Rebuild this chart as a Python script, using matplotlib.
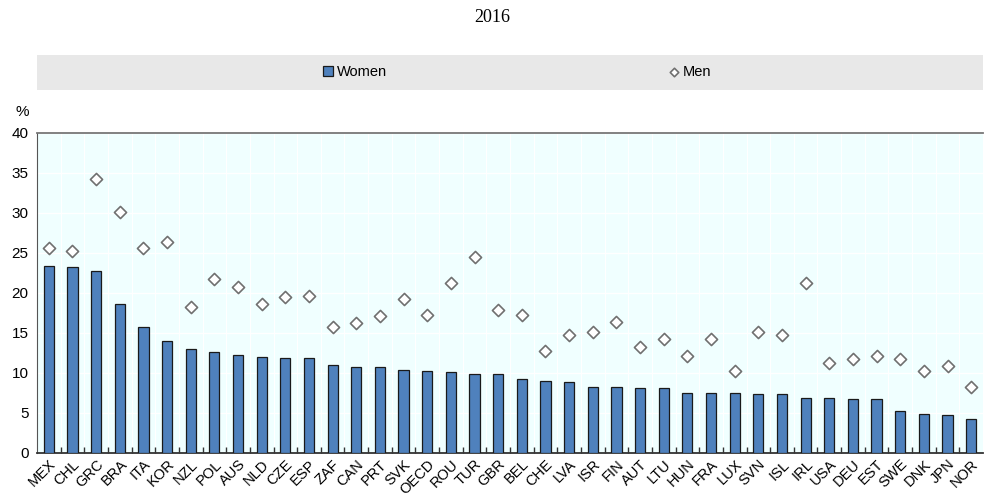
import numpy as np
import matplotlib
matplotlib.use("Agg")
import matplotlib.pyplot as plt
from matplotlib.patches import Rectangle

plt.rcParams["font.family"] = ["Liberation Sans", "DejaVu Sans"]

countries = ["MEX", "CHL", "GRC", "BRA", "ITA", "KOR", "NZL", "POL", "AUS", "NLD",
             "CZE", "ESP", "ZAF", "CAN", "PRT", "SVK", "OECD", "ROU", "TUR", "GBR",
             "BEL", "CHE", "LVA", "ISR", "FIN", "AUT", "LTU", "HUN", "FRA", "LUX",
             "SVN", "ISL", "IRL", "USA", "DEU", "EST", "SWE", "DNK", "JPN", "NOR"]
women = [23.4, 23.3, 22.8, 18.6, 15.8, 14.0, 13.0, 12.6, 12.3, 12.0,
         11.9, 11.9, 11.0, 10.8, 10.7, 10.4, 10.3, 10.1, 9.9, 9.9,
         9.2, 9.0, 8.9, 8.2, 8.2, 8.1, 8.1, 7.5, 7.5, 7.5,
         7.4, 7.4, 6.9, 6.9, 6.7, 6.7, 5.3, 4.9, 4.7, 4.2]
men = [25.6, 25.2, 34.2, 30.1, 25.6, 26.4, 18.2, 21.8, 20.7, 18.6,
       19.5, 19.6, 15.8, 16.2, 17.1, 19.2, 17.2, 21.2, 24.5, 17.9,
       17.3, 12.8, 14.7, 15.1, 16.4, 13.2, 14.3, 12.1, 14.3, 10.3,
       15.1, 14.7, 21.2, 11.3, 11.7, 12.1, 11.8, 10.2, 10.9, 8.2]

fig = plt.figure(figsize=(9.85, 4.95), dpi=100)
ax = fig.add_axes([37 / 985, 1 - 453 / 495, 946 / 985, 320 / 495])

x = np.arange(len(countries))
ax.set_facecolor("#F0FFFF")
bars = ax.bar(x, women, width=0.43, color="#4F81BD", edgecolor="#1a1a1a", linewidth=0.9,
              zorder=3, label="Women")
pts = ax.scatter(x, men, marker="D", s=38, facecolor="white", edgecolor="#707070",
                 linewidth=1.2, zorder=4, label="Men")

ax.set_xlim(-0.5, len(countries) - 0.5)
ax.set_ylim(0, 40)
ax.set_yticks(np.arange(0, 41, 5))
ax.tick_params(axis="y", length=0, labelsize=11, pad=6)
ax.set_xticks(x)
ax.set_xticklabels(countries, rotation=45, ha="right", rotation_mode="anchor", fontsize=10.5)
ax.tick_params(axis="x", length=0, pad=3)
# small boundary ticks between categories
ax.set_xticks(x[:-1] + 0.5, minor=True)
ax.tick_params(axis="x", which="minor", direction="in", length=4, color="#333333", width=1)
ax.grid(axis="y", color="white", linewidth=1.0, zorder=0)
for b in x[:-1] + 0.5:
    ax.axvline(b, color="white", linewidth=0.8, zorder=0)

ax.spines["right"].set_visible(False)
ax.spines["top"].set_color("#777777")
ax.spines["left"].set_color("#555555")
ax.spines["bottom"].set_color("#333333")
ax.spines["bottom"].set_linewidth(1.3)
ax.spines["top"].set_linewidth(1.3)

fig.text(15 / 985, 1 - 112 / 495, "%", fontsize=11, ha="left", va="center")
fig.text(0.5, 1 - 18 / 495, "2016", fontsize=13, ha="center", va="center",
         family="Liberation Serif")

# legend band
fig.patches.append(Rectangle((37 / 985, 1 - 90 / 495), 946 / 985, 35 / 495,
                             transform=fig.transFigure, facecolor="#E8E8E8",
                             edgecolor="none", zorder=0))
yl = 1 - 72 / 495
fig.legend([bars], ["Women"], loc="center", bbox_to_anchor=(355 / 985, yl),
           frameon=False, fontsize=10.5, handlelength=0.7, handleheight=0.7,
           handletextpad=0.3)
fig.legend([pts], ["Men"], loc="center", bbox_to_anchor=(690 / 985, yl),
           frameon=False, fontsize=10.5, handlelength=0.7, handletextpad=0.3,
           markerscale=0.7)

fig.savefig("out.png", dpi=100)
